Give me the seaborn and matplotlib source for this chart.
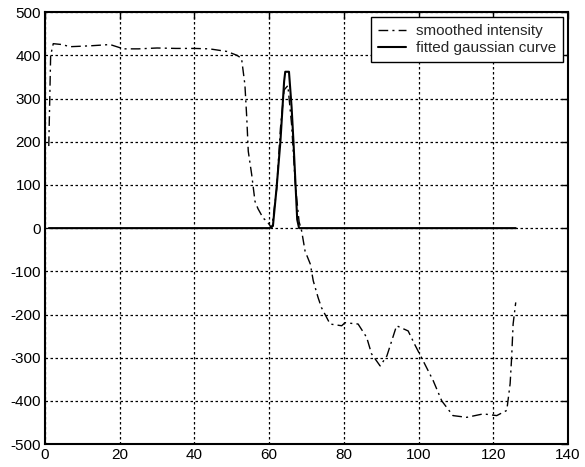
import matplotlib
matplotlib.use("Agg")
import matplotlib.pyplot as plt
import seaborn as sns
import pandas as pd

# smoothed intensity
smooth_x = [1, 1.5, 2.2, 4.5, 6.7, 12, 17.4, 21, 25, 30, 35, 40, 44, 48.7, 51.4,
            52.6, 53.5, 54, 54.4, 55.3, 56.2, 57, 58.4, 59.4, 60.7,
            62, 63, 64, 65, 66, 67, 68, 68.7,
            69.6, 71, 71.8, 73.1, 74, 76.3, 79.4, 80.3, 83.8, 86.1, 87.4, 89.7,
            91.5, 92.8, 94.1, 97.2, 99, 101.2, 103.9, 106.2, 109.2, 112.9,
            117.3, 120.9, 123.6, 124.5, 124.9, 125.3, 126]
smooth_y = [190, 400, 427, 425, 420, 422, 425, 415, 415, 417, 416, 416, 415, 409, 400,
            393, 332, 255, 178, 125, 62, 45, 23, 16, 0,
            90, 230, 320, 330, 240, 100, 15, -7,
            -53, -83, -122, -161, -184, -222, -226, -219, -222, -253, -291, -319,
            -296, -261, -226, -238, -270, -307, -353, -400, -434, -438,
            -430, -434, -422, -360, -300, -222, -172]

# fitted gaussian curve
gauss_x = [1, 60, 61, 62, 63, 64, 64.3, 65.3, 66, 66.5, 67, 67.5, 68, 126]
gauss_y = [0, 0, 5, 95, 200, 340, 362, 362, 280, 200, 110, 20, 0, 0]

df_smooth = pd.DataFrame({"x": smooth_x, "y": smooth_y})
df_gauss = pd.DataFrame({"x": gauss_x, "y": gauss_y})

sns.set_style("white")
plt.rcParams["font.family"] = ["Liberation Sans", "DejaVu Sans"]
plt.rcParams["axes.unicode_minus"] = False

fig = plt.figure(figsize=(5.85, 4.67), dpi=100)
ax = fig.add_axes([0.077, 0.049, 0.894, 0.925])

sns.lineplot(data=df_smooth, x="x", y="y", ax=ax, color="black", lw=1.0,
             linestyle=(0, (7, 3, 1.5, 3)), sort=False, label="smoothed intensity")
sns.lineplot(data=df_gauss, x="x", y="y", ax=ax, color="black", lw=1.5,
             sort=False, label="fitted gaussian curve")

ax.set_xlim(0, 140)
ax.set_ylim(-500, 500)
ax.set_xticks(range(0, 141, 20))
ax.set_yticks(range(-500, 501, 100))
ax.set_xlabel("")
ax.set_ylabel("")
ax.grid(True, color="black", linestyle=(0, (2, 2)), linewidth=0.9)
ax.tick_params(direction="in", length=5, width=1, top=True, right=True,
               labelsize=11, colors="black", pad=3)
for s in ax.spines.values():
    s.set_color("black")
    s.set_linewidth(1.5)

leg = ax.legend(loc="upper right", fontsize=11, handlelength=1.8,
                borderaxespad=0.35, fancybox=False, framealpha=1,
                edgecolor="black", borderpad=0.45, labelspacing=0.2,
                handletextpad=0.65)
leg.get_frame().set_linewidth(1.0)

fig.savefig("out.png", dpi=100)
